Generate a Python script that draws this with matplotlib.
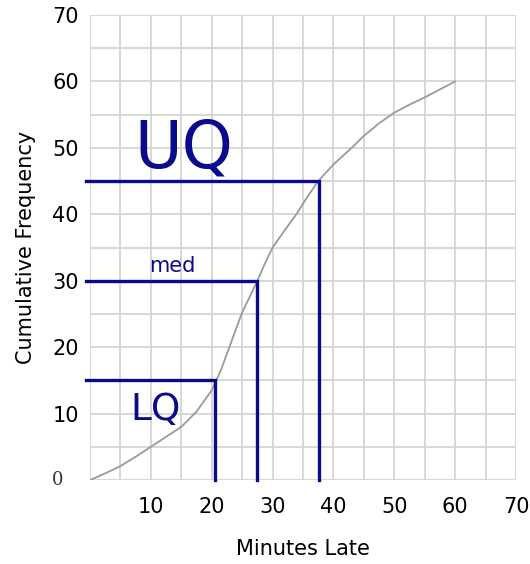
import matplotlib.pyplot as plt
import numpy as np

# curve
minutos = [0, 2.5, 5, 7.5, 10, 12.5, 15, 17.5, 20, 21.5, 22.9, 24.9, 26.2, 27.5,
           28.7, 30, 32, 33.9, 35.7, 37.5, 40, 43, 45, 47.5, 50, 52.5, 55, 57.5, 60]
freq_acum = [0, 1.0, 2.1, 3.5, 5, 6.5, 8, 10.3, 13.5, 16.5, 20, 25, 27.5, 30,
             32.5, 35, 37.6, 40, 42.6, 45, 47.5, 50, 51.8, 53.7, 55.3, 56.5, 57.6, 58.8, 60]

# quartiles: label, x, y
quartis_nome = ["LQ", "med", "UQ"]
quartis_x = [20.5, 27.4, 37.7]
quartis_y = [15, 30, 45]

xticks = [10, 20, 30, 40, 50, 60, 70]
yticks = [0, 10, 20, 30, 40, 50, 60, 70]

azul = "#0a0a8c"

fig = plt.figure(figsize=(5.3, 5.64), dpi=100)
ax = fig.add_axes([0.1698, 0.1489, 0.8038, 0.8245])

ax.set_xlim(0, 70)
ax.set_ylim(0, 70)
ax.set_xticks(np.arange(0, 71, 5), minor=True)
ax.set_yticks(np.arange(0, 71, 5), minor=True)
ax.set_xticks(xticks)
ax.set_yticks(yticks)
ax.grid(True, which="both", color="#d4d4d4", linewidth=1.3)
ax.set_axisbelow(True)
for s in ax.spines.values():
    s.set_visible(False)

ax.plot(minutos, freq_acum, color="#9a9a9a", linewidth=1.3, zorder=3)

for nome, qx, qy in zip(quartis_nome, quartis_x, quartis_y):
    ax.plot([-0.7, qx, qx], [qy, qy, 0], color=azul, linewidth=2.4,
            solid_joinstyle="miter", clip_on=False, zorder=4)

ax.text(15.4, 47.0, "UQ", color=azul, fontsize=47, ha="center", va="baseline")
ax.text(13.6, 31.3, "med", color=azul, fontsize=15, ha="center", va="baseline")
ax.text(10.7, 9.0, "LQ", color=azul, fontsize=27, ha="center", va="baseline")

ax.set_xticklabels([str(t) for t in xticks], fontsize=15)
ax.set_yticklabels([""] + [str(t) for t in yticks[1:]], fontsize=15)
ax.tick_params(axis="both", which="both", length=0)
ax.tick_params(axis="x", pad=12)
ax.tick_params(axis="y", pad=8)
ax.text(-5.3, 0, "0", fontsize=13, family="DejaVu Serif", color="#333333",
        ha="center", va="center")

ax.set_xlabel("Minutes Late", fontsize=15, labelpad=16)
ax.set_ylabel("Cumulative Frequency", fontsize=15, labelpad=12)

fig.savefig("out.png", dpi=100)
